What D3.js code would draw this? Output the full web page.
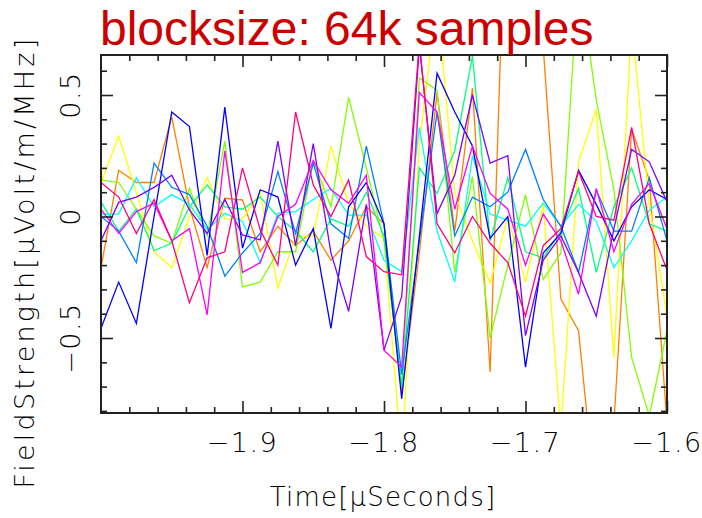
<!DOCTYPE html>
<html><head><meta charset="utf-8">
<script src="https://cdn.jsdelivr.net/npm/d3@7"></script>
<style>body{margin:0;background:#fff}svg{display:block}</style>
</head><body><svg id="c" width="702" height="518"></svg>
<script>
const titleText = "blocksize: 64k samples";
const xTitle = "Time[\u03bcSeconds]";
const yTitle = "FieldStrength[\u03bcVolt/m/MHz]";
const times = [-2.0,-1.9875,-1.975,-1.9625,-1.95,-1.9375,-1.925,-1.9125,-1.9,-1.8875,-1.875,-1.8625,-1.85,-1.8375,-1.825,-1.8125,-1.8,-1.7875,-1.775,-1.7625,-1.75,-1.7375,-1.725,-1.7125,-1.7,-1.6875,-1.675,-1.6625,-1.65,-1.6375,-1.625,-1.6125,-1.6];
const orange = [-0.21,0.19,0.14,0.14,0.41,0.04,-0.21,0.075,0.068,-0.145,-0.04,-0.12,-0.06,-0.18,-0.1,0.04,-0.03,-0.73,-0.15,0.51,-0.06,0.53,-0.64,1.6,1.2,0.7,-0.34,-0.47,-1.2,-0.85,0.36,0.15,-0.85];
const yellow = [0.14,0.33,0.1,-0.145,-0.21,0.0,0.16,-0.01,-0.01,0.1,-0.295,-0.083,-0.08,0.29,0.054,-0.04,-0.09,-1.0,0.3,0.9,0.095,-0.1,-0.275,0.0,-0.27,0.05,-0.88,0.225,0.44,-0.58,0.8,0.05,-0.41];
const chartreuse = [0.15,0.14,0.03,-0.08,-0.11,0.116,-0.08,0.31,-0.29,-0.27,-0.145,-0.145,0.23,0.04,0.49,0.2,-0.1,-0.7,0.57,0.52,-0.23,0.164,-0.5,-0.2,0.09,-0.26,-0.15,1.0,0.48,0.11,-0.58,-0.82,-0.47];
const springGreen = [0.06,-0.06,0.03,-0.14,-0.11,0.04,0.13,0.04,0.03,0.08,0.0,-0.06,-0.145,-0.01,-0.04,0.1,-0.08,-0.7,0.2,0.095,0.27,0.66,-0.1,0.16,-0.145,-0.17,-0.06,0.115,-0.23,0.04,0.2,-0.03,-0.06];
const cyan = [0.01,0.01,0.16,0.04,0.09,0.05,-0.055,0.013,-0.02,-0.19,0.013,0.02,0.07,0.116,0.006,0.006,-0.18,-0.227,0.367,-0.06,-0.27,0.25,0.01,-0.015,-0.04,0.055,-0.04,0.05,-0.02,-0.21,-0.1,0.026,0.08];
const azure = [0.0,-0.06,-0.19,0.22,0.12,0.09,-0.04,-0.245,-0.15,-0.07,0.185,-0.07,0.22,-0.03,-0.09,0.29,-0.03,-0.65,-0.1,0.43,-0.08,0.08,0.04,0.1,0.276,0.07,-0.04,-0.23,0.11,-0.06,-0.06,0.16,-0.1];
const blue = [-0.46,-0.27,-0.44,0.0,0.43,0.37,-0.16,0.45,-0.13,0.11,0.08,-0.2,-0.05,-0.46,0.04,0.14,-0.03,-0.75,-0.08,0.59,0.43,0.29,-0.09,0.0,-0.62,-0.15,-0.07,0.19,0.05,-0.1,0.04,0.11,0.07];
const violet = [-0.1,0.058,0.08,0.12,0.17,0.027,-0.07,0.07,-0.076,-0.096,0.31,-0.12,0.3,-0.15,-0.39,0.05,-0.55,-0.33,0.7,0.012,0.17,0.5,0.22,0.25,-0.49,-0.18,-0.08,-0.23,-0.41,-0.05,0.276,0.225,0.06];
const magenta = [0.03,-0.07,0.02,0.055,-0.1,-0.05,-0.405,0.27,-0.23,-0.19,0.0,0.05,0.23,0.11,0.054,0.17,-0.55,-0.62,0.51,0.43,0.03,0.29,0.095,0.03,-0.2,0.01,-0.1,-0.32,0.115,-0.145,0.05,0.136,-0.05];
const rose = [0.14,0.08,-0.07,0.07,-0.1,-0.355,-0.17,-0.145,0.2,-0.055,-0.2,0.43,0.13,0.0,0.15,-0.165,-0.227,-0.24,0.72,-0.03,-0.15,0.0,-0.11,-0.19,-0.41,-0.12,-0.05,0.185,0.0,-0.015,0.367,-0.03,-0.22];
const seriesList = [orange, yellow, chartreuse, springGreen, cyan, azure, blue, violet, magenta, rose];
const seriesColors = ["#ff8000","#ffff00","#80ff00","#00ff80","#00ffff","#0080ff","#0000ff","#8000ff","#ff00ff","#ff0080"];
const xMajorTicks = [-1.9,-1.8,-1.7,-1.6];
const xTickLabels = ["\u22121.9","\u22121.8","\u22121.7","\u22121.6"];
const yMajorTicks = [-0.5,0,0.5];
const yTickLabels = ["\u22120.5","0","0.5"];

const svg = d3.select("#c");
const L = 101, R = 667, T = 55, B = 413;
const x = d3.scaleLinear().domain([-2.0,-1.6]).range([L,R]);
const y = d3.scaleLinear().domain([-0.8086,0.6646]).range([B,T]);

svg.append("defs").append("clipPath").attr("id","clip")
  .append("rect").attr("x",L).attr("y",T).attr("width",R-L).attr("height",B-T);

const line = d3.line().x((d,i)=>x(times[i])).y(d=>y(d));
const g = svg.append("g").attr("clip-path","url(#clip)");
seriesList.forEach((s,k)=>{
  g.append("path").datum(s).attr("d",line).attr("fill","none")
   .attr("stroke",seriesColors[k]).attr("stroke-width",1.3).attr("stroke-linejoin","miter");
});

const xMinor = d3.range(-1.98,-1.6,0.02).filter(v=>Math.abs(v*10-Math.round(v*10))>1e-6);
const yMinor = [-0.8,-0.7,-0.6,-0.4,-0.3,-0.2,-0.1,0.1,0.2,0.3,0.4,0.6];
function styleAxis(sel){
  sel.selectAll(".domain").remove();
  sel.selectAll(".tick line").attr("stroke","#222").attr("stroke-width",1.6);
  sel.selectAll(".tick text").remove();
}
svg.append("g").attr("transform",`translate(0,${B})`).call(d3.axisBottom(x).tickValues(xMajorTicks).tickSize(-12)).call(styleAxis);
svg.append("g").attr("transform",`translate(0,${B})`).call(d3.axisBottom(x).tickValues(xMinor).tickSize(-6)).call(styleAxis);
svg.append("g").attr("transform",`translate(0,${T})`).call(d3.axisTop(x).tickValues(xMajorTicks).tickSize(-12)).call(styleAxis);
svg.append("g").attr("transform",`translate(0,${T})`).call(d3.axisTop(x).tickValues(xMinor).tickSize(-6)).call(styleAxis);
svg.append("g").attr("transform",`translate(${L},0)`).call(d3.axisLeft(y).tickValues(yMajorTicks).tickSize(-12)).call(styleAxis);
svg.append("g").attr("transform",`translate(${L},0)`).call(d3.axisLeft(y).tickValues(yMinor).tickSize(-6)).call(styleAxis);
svg.append("g").attr("transform",`translate(${R},0)`).call(d3.axisRight(y).tickValues(yMajorTicks).tickSize(-12)).call(styleAxis);
svg.append("g").attr("transform",`translate(${R},0)`).call(d3.axisRight(y).tickValues(yMinor).tickSize(-6)).call(styleAxis);

svg.append("rect").attr("x",L).attr("y",T).attr("width",R-L).attr("height",B-T)
  .attr("fill","none").attr("stroke","#222").attr("stroke-width",2);

const font = "'DejaVu Sans', sans-serif";
svg.selectAll(".xl").data(xMajorTicks).enter().append("text")
  .attr("x",d=>x(d)).attr("y",452).attr("text-anchor","middle")
  .attr("font-family",font).attr("font-weight",200).attr("font-size",27).attr("letter-spacing",1.5)
  .attr("fill","#000").text((d,i)=>xTickLabels[i]);
svg.selectAll(".yl").data(yMajorTicks).enter().append("text")
  .attr("transform",d=>`translate(80,${y(d)}) rotate(-90)`).attr("text-anchor","middle")
  .attr("font-family",font).attr("font-weight",200).attr("font-size",27).attr("letter-spacing",1.5)
  .attr("fill","#000").text((d,i)=>yTickLabels[i]);

svg.append("text").attr("x",383).attr("y",506).attr("text-anchor","middle")
  .attr("font-family",font).attr("font-weight",200).attr("font-size",26).attr("letter-spacing",1.2)
  .attr("fill","#000").text(xTitle);
svg.append("text").attr("transform","translate(34,262) rotate(-90)").attr("text-anchor","middle")
  .attr("font-family",font).attr("font-weight",200).attr("font-size",27).attr("letter-spacing",3.2)
  .attr("fill","#000").text(yTitle);

svg.append("text").attr("x",100).attr("y",45)
  .attr("font-family","'Liberation Sans', Arial, sans-serif").attr("font-size",48)
  .attr("fill","#cc0000").text(titleText);
</script></body></html>
